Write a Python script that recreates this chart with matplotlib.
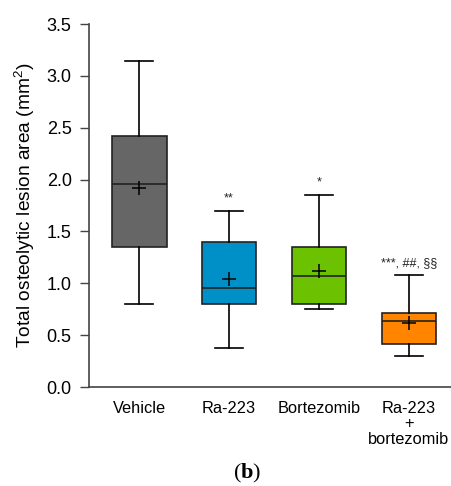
import matplotlib
matplotlib.use("Agg")
import matplotlib.pyplot as plt

plt.rcParams['font.family'] = ['Liberation Sans', 'DejaVu Sans']
plt.rcParams['mathtext.fontset'] = 'custom'
plt.rcParams['mathtext.rm'] = 'Liberation Sans'
plt.rcParams['mathtext.bf'] = 'Liberation Serif:bold'

groups = ['Vehicle', 'Ra-223', 'Bortezomib', 'Ra-223\n+\nbortezomib']
whislo = [0.80, 0.38, 0.75, 0.30]
q1 = [1.35, 0.80, 0.80, 0.41]
med = [1.96, 0.95, 1.07, 0.64]
q3 = [2.42, 1.40, 1.35, 0.71]
whishi = [3.14, 1.70, 1.85, 1.08]
means = [1.92, 1.04, 1.12, 0.62]
colors = ['#666666', '#0090c8', '#6cc200', '#ff8500']
signif = ['', '**', '*', '***, ##, §§']

stats = []
for i in range(len(groups)):
    stats.append({'whislo': whislo[i], 'q1': q1[i], 'med': med[i],
                  'q3': q3[i], 'whishi': whishi[i], 'mean': means[i]})

fig = plt.figure(figsize=(4.52, 4.86), dpi=100)
ax = fig.add_axes([0.197, 0.2037, 0.803, 0.7469])

line = dict(color='black', linewidth=1.2)
bp = ax.bxp(stats, positions=[1, 2, 3, 4], widths=0.61, patch_artist=True,
            showmeans=True, showfliers=False,
            boxprops=dict(edgecolor='#222222', linewidth=1.2),
            medianprops=dict(color='#222222', linewidth=1.2),
            whiskerprops=line, capprops=line,
            meanprops=dict(marker='+', markeredgecolor='black', markersize=10,
                           markeredgewidth=1.1))
for patch, c in zip(bp['boxes'], colors):
    patch.set_facecolor(c)
for cap in bp['caps']:
    xd = cap.get_xdata()
    mid = (xd[0] + xd[1]) / 2
    cap.set_xdata([mid - 0.155, mid + 0.155])

for i, s in enumerate(signif):
    if s:
        ax.text(i + 1, whishi[i] + 0.06, s, ha='center', va='bottom',
                fontsize=9, color='#222222')

ax.set_xlim(0.444, 4.478)
ax.set_ylim(0, 3.5)
ax.set_yticks([0.0, 0.5, 1.0, 1.5, 2.0, 2.5, 3.0, 3.5])
ax.set_yticklabels(['0.0', '0.5', '1.0', '1.5', '2.0', '2.5', '3.0', '3.5'])
ax.set_xticks([1, 2, 3, 4])
ax.set_xticklabels(groups, fontsize=11.8, linespacing=1.05, va='top')
ax.tick_params(axis='x', length=0, pad=10)
ax.tick_params(axis='y', length=6.5, width=1.0, labelsize=13, color='#444444', pad=6)
ax.spines['top'].set_visible(False)
ax.spines['right'].set_visible(False)
ax.spines['left'].set_color('#444444')
ax.spines['bottom'].set_color('#444444')
ax.spines['left'].set_linewidth(1.2)
ax.spines['bottom'].set_linewidth(1.2)
ax.set_ylabel('Total osteolytic lesion area (mm$^2$)', fontsize=13.8, labelpad=7)

fig.text(0.546, 0.026, r'($\mathbf{b}$)', ha='center', va='center', fontsize=16,
         family='Liberation Serif')

fig.savefig('out.png', dpi=100)
